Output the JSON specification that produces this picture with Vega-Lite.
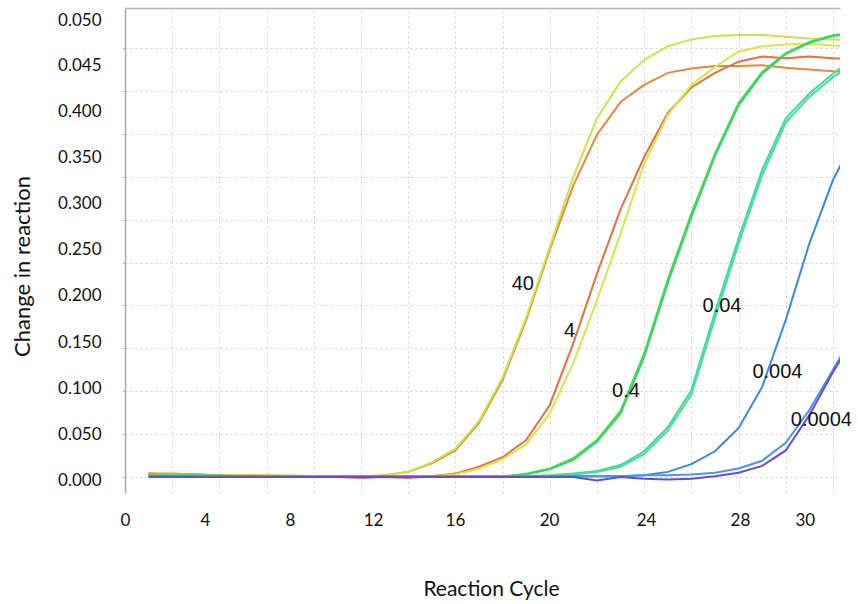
{
  "$schema": "https://vega.github.io/schema/vega-lite/v6.json",
  "width": 715,
  "height": 485,
  "autosize": {"type": "none"},
  "padding": {"left": 125, "top": 8, "right": 18, "bottom": 111},
  "background": "white",
  "config": {"view": {"stroke": null}, "font": "Lato"},
  "datasets": {
    "curves": [
      {"series":"40a","cycle":1,"value":0.004},{"series":"40a","cycle":2,"value":0.004},{"series":"40a","cycle":3,"value":0.003},{"series":"40a","cycle":4,"value":0.002},{"series":"40a","cycle":5,"value":0.002},{"series":"40a","cycle":6,"value":0.002},{"series":"40a","cycle":7,"value":0.001},{"series":"40a","cycle":8,"value":0.001},{"series":"40a","cycle":9,"value":0.001},{"series":"40a","cycle":10,"value":0.000},{"series":"40a","cycle":11,"value":0.002},{"series":"40a","cycle":12,"value":0.006},{"series":"40a","cycle":13,"value":0.016},{"series":"40a","cycle":14,"value":0.031},{"series":"40a","cycle":15,"value":0.063},{"series":"40a","cycle":16,"value":0.113},{"series":"40a","cycle":17,"value":0.183},{"series":"40a","cycle":18,"value":0.265},{"series":"40a","cycle":19,"value":0.340},{"series":"40a","cycle":20,"value":0.399},{"series":"40a","cycle":21,"value":0.437},{"series":"40a","cycle":22,"value":0.457},{"series":"40a","cycle":23,"value":0.471},{"series":"40a","cycle":24,"value":0.476},{"series":"40a","cycle":25,"value":0.479},{"series":"40a","cycle":26,"value":0.479},{"series":"40a","cycle":27,"value":0.480},{"series":"40a","cycle":28,"value":0.477},{"series":"40a","cycle":29,"value":0.475},{"series":"40a","cycle":30,"value":0.473},{"series":"40a","cycle":31,"value":0.472},
      {"series":"40b","cycle":1,"value":0.003},{"series":"40b","cycle":2,"value":0.003},{"series":"40b","cycle":3,"value":0.003},{"series":"40b","cycle":4,"value":0.002},{"series":"40b","cycle":5,"value":0.002},{"series":"40b","cycle":6,"value":0.002},{"series":"40b","cycle":7,"value":0.002},{"series":"40b","cycle":8,"value":0.001},{"series":"40b","cycle":9,"value":0.001},{"series":"40b","cycle":10,"value":0.001},{"series":"40b","cycle":11,"value":0.002},{"series":"40b","cycle":12,"value":0.006},{"series":"40b","cycle":13,"value":0.017},{"series":"40b","cycle":14,"value":0.033},{"series":"40b","cycle":15,"value":0.065},{"series":"40b","cycle":16,"value":0.116},{"series":"40b","cycle":17,"value":0.186},{"series":"40b","cycle":18,"value":0.268},{"series":"40b","cycle":19,"value":0.350},{"series":"40b","cycle":20,"value":0.418},{"series":"40b","cycle":21,"value":0.461},{"series":"40b","cycle":22,"value":0.486},{"series":"40b","cycle":23,"value":0.502},{"series":"40b","cycle":24,"value":0.510},{"series":"40b","cycle":25,"value":0.514},{"series":"40b","cycle":26,"value":0.515},{"series":"40b","cycle":27,"value":0.515},{"series":"40b","cycle":28,"value":0.513},{"series":"40b","cycle":29,"value":0.511},{"series":"40b","cycle":30,"value":0.510},{"series":"40b","cycle":31,"value":0.509},
      {"series":"4a","cycle":1,"value":0.004},{"series":"4a","cycle":2,"value":0.003},{"series":"4a","cycle":3,"value":0.003},{"series":"4a","cycle":4,"value":0.002},{"series":"4a","cycle":5,"value":0.002},{"series":"4a","cycle":6,"value":0.001},{"series":"4a","cycle":7,"value":0.001},{"series":"4a","cycle":8,"value":0.001},{"series":"4a","cycle":9,"value":0.000},{"series":"4a","cycle":10,"value":-0.001},{"series":"4a","cycle":11,"value":0.000},{"series":"4a","cycle":12,"value":-0.001},{"series":"4a","cycle":13,"value":0.001},{"series":"4a","cycle":14,"value":0.004},{"series":"4a","cycle":15,"value":0.012},{"series":"4a","cycle":16,"value":0.023},{"series":"4a","cycle":17,"value":0.043},{"series":"4a","cycle":18,"value":0.084},{"series":"4a","cycle":19,"value":0.156},{"series":"4a","cycle":20,"value":0.237},{"series":"4a","cycle":21,"value":0.312},{"series":"4a","cycle":22,"value":0.373},{"series":"4a","cycle":23,"value":0.424},{"series":"4a","cycle":24,"value":0.454},{"series":"4a","cycle":25,"value":0.471},{"series":"4a","cycle":26,"value":0.484},{"series":"4a","cycle":27,"value":0.490},{"series":"4a","cycle":28,"value":0.488},{"series":"4a","cycle":29,"value":0.490},{"series":"4a","cycle":30,"value":0.488},{"series":"4a","cycle":31,"value":0.487},
      {"series":"4b","cycle":1,"value":0.003},{"series":"4b","cycle":2,"value":0.003},{"series":"4b","cycle":3,"value":0.002},{"series":"4b","cycle":4,"value":0.002},{"series":"4b","cycle":5,"value":0.002},{"series":"4b","cycle":6,"value":0.001},{"series":"4b","cycle":7,"value":0.001},{"series":"4b","cycle":8,"value":0.001},{"series":"4b","cycle":9,"value":0.000},{"series":"4b","cycle":10,"value":0.000},{"series":"4b","cycle":11,"value":0.000},{"series":"4b","cycle":12,"value":0.000},{"series":"4b","cycle":13,"value":0.001},{"series":"4b","cycle":14,"value":0.003},{"series":"4b","cycle":15,"value":0.010},{"series":"4b","cycle":16,"value":0.021},{"series":"4b","cycle":17,"value":0.038},{"series":"4b","cycle":18,"value":0.074},{"series":"4b","cycle":19,"value":0.133},{"series":"4b","cycle":20,"value":0.206},{"series":"4b","cycle":21,"value":0.284},{"series":"4b","cycle":22,"value":0.365},{"series":"4b","cycle":23,"value":0.422},{"series":"4b","cycle":24,"value":0.457},{"series":"4b","cycle":25,"value":0.478},{"series":"4b","cycle":26,"value":0.496},{"series":"4b","cycle":27,"value":0.502},{"series":"4b","cycle":28,"value":0.504},{"series":"4b","cycle":29,"value":0.505},{"series":"4b","cycle":30,"value":0.503},{"series":"4b","cycle":31,"value":0.502},
      {"series":"0.4a","cycle":1,"value":0.002},{"series":"0.4a","cycle":2,"value":0.002},{"series":"0.4a","cycle":3,"value":0.002},{"series":"0.4a","cycle":4,"value":0.002},{"series":"0.4a","cycle":5,"value":0.001},{"series":"0.4a","cycle":6,"value":0.001},{"series":"0.4a","cycle":7,"value":0.001},{"series":"0.4a","cycle":8,"value":0.001},{"series":"0.4a","cycle":9,"value":0.001},{"series":"0.4a","cycle":10,"value":0.001},{"series":"0.4a","cycle":11,"value":0.001},{"series":"0.4a","cycle":12,"value":0.001},{"series":"0.4a","cycle":13,"value":0.000},{"series":"0.4a","cycle":14,"value":0.000},{"series":"0.4a","cycle":15,"value":0.000},{"series":"0.4a","cycle":16,"value":0.000},{"series":"0.4a","cycle":17,"value":0.004},{"series":"0.4a","cycle":18,"value":0.010},{"series":"0.4a","cycle":19,"value":0.022},{"series":"0.4a","cycle":20,"value":0.043},{"series":"0.4a","cycle":21,"value":0.077},{"series":"0.4a","cycle":22,"value":0.144},{"series":"0.4a","cycle":23,"value":0.230},{"series":"0.4a","cycle":24,"value":0.307},{"series":"0.4a","cycle":25,"value":0.377},{"series":"0.4a","cycle":26,"value":0.436},{"series":"0.4a","cycle":27,"value":0.472},{"series":"0.4a","cycle":28,"value":0.494},{"series":"0.4a","cycle":29,"value":0.507},{"series":"0.4a","cycle":30,"value":0.515},{"series":"0.4a","cycle":31,"value":0.518},
      {"series":"0.4b","cycle":1,"value":0.002},{"series":"0.4b","cycle":2,"value":0.002},{"series":"0.4b","cycle":3,"value":0.002},{"series":"0.4b","cycle":4,"value":0.001},{"series":"0.4b","cycle":5,"value":0.001},{"series":"0.4b","cycle":6,"value":0.001},{"series":"0.4b","cycle":7,"value":0.001},{"series":"0.4b","cycle":8,"value":0.001},{"series":"0.4b","cycle":9,"value":0.001},{"series":"0.4b","cycle":10,"value":0.001},{"series":"0.4b","cycle":11,"value":0.000},{"series":"0.4b","cycle":12,"value":0.000},{"series":"0.4b","cycle":13,"value":0.000},{"series":"0.4b","cycle":14,"value":0.000},{"series":"0.4b","cycle":15,"value":0.000},{"series":"0.4b","cycle":16,"value":0.001},{"series":"0.4b","cycle":17,"value":0.003},{"series":"0.4b","cycle":18,"value":0.009},{"series":"0.4b","cycle":19,"value":0.020},{"series":"0.4b","cycle":20,"value":0.041},{"series":"0.4b","cycle":21,"value":0.074},{"series":"0.4b","cycle":22,"value":0.140},{"series":"0.4b","cycle":23,"value":0.226},{"series":"0.4b","cycle":24,"value":0.303},{"series":"0.4b","cycle":25,"value":0.374},{"series":"0.4b","cycle":26,"value":0.433},{"series":"0.4b","cycle":27,"value":0.470},{"series":"0.4b","cycle":28,"value":0.493},{"series":"0.4b","cycle":29,"value":0.506},{"series":"0.4b","cycle":30,"value":0.514},{"series":"0.4b","cycle":31,"value":0.517},
      {"series":"0.04a","cycle":1,"value":0.001},{"series":"0.04a","cycle":2,"value":0.001},{"series":"0.04a","cycle":3,"value":0.001},{"series":"0.04a","cycle":4,"value":0.001},{"series":"0.04a","cycle":5,"value":0.001},{"series":"0.04a","cycle":6,"value":0.001},{"series":"0.04a","cycle":7,"value":0.001},{"series":"0.04a","cycle":8,"value":0.001},{"series":"0.04a","cycle":9,"value":0.001},{"series":"0.04a","cycle":10,"value":0.001},{"series":"0.04a","cycle":11,"value":0.001},{"series":"0.04a","cycle":12,"value":0.001},{"series":"0.04a","cycle":13,"value":0.001},{"series":"0.04a","cycle":14,"value":0.001},{"series":"0.04a","cycle":15,"value":0.001},{"series":"0.04a","cycle":16,"value":0.001},{"series":"0.04a","cycle":17,"value":0.001},{"series":"0.04a","cycle":18,"value":0.002},{"series":"0.04a","cycle":19,"value":0.004},{"series":"0.04a","cycle":20,"value":0.007},{"series":"0.04a","cycle":21,"value":0.014},{"series":"0.04a","cycle":22,"value":0.030},{"series":"0.04a","cycle":23,"value":0.058},{"series":"0.04a","cycle":24,"value":0.101},{"series":"0.04a","cycle":25,"value":0.192},{"series":"0.04a","cycle":26,"value":0.278},{"series":"0.04a","cycle":27,"value":0.358},{"series":"0.04a","cycle":28,"value":0.418},{"series":"0.04a","cycle":29,"value":0.447},{"series":"0.04a","cycle":30,"value":0.470},{"series":"0.04a","cycle":31,"value":0.490},
      {"series":"0.04b","cycle":1,"value":0.001},{"series":"0.04b","cycle":2,"value":0.001},{"series":"0.04b","cycle":3,"value":0.001},{"series":"0.04b","cycle":4,"value":0.001},{"series":"0.04b","cycle":5,"value":0.001},{"series":"0.04b","cycle":6,"value":0.001},{"series":"0.04b","cycle":7,"value":0.001},{"series":"0.04b","cycle":8,"value":0.001},{"series":"0.04b","cycle":9,"value":0.001},{"series":"0.04b","cycle":10,"value":0.001},{"series":"0.04b","cycle":11,"value":0.001},{"series":"0.04b","cycle":12,"value":0.001},{"series":"0.04b","cycle":13,"value":0.001},{"series":"0.04b","cycle":14,"value":0.001},{"series":"0.04b","cycle":15,"value":0.001},{"series":"0.04b","cycle":16,"value":0.001},{"series":"0.04b","cycle":17,"value":0.001},{"series":"0.04b","cycle":18,"value":0.001},{"series":"0.04b","cycle":19,"value":0.003},{"series":"0.04b","cycle":20,"value":0.006},{"series":"0.04b","cycle":21,"value":0.012},{"series":"0.04b","cycle":22,"value":0.027},{"series":"0.04b","cycle":23,"value":0.054},{"series":"0.04b","cycle":24,"value":0.096},{"series":"0.04b","cycle":25,"value":0.185},{"series":"0.04b","cycle":26,"value":0.272},{"series":"0.04b","cycle":27,"value":0.352},{"series":"0.04b","cycle":28,"value":0.413},{"series":"0.04b","cycle":29,"value":0.443},{"series":"0.04b","cycle":30,"value":0.466},{"series":"0.04b","cycle":31,"value":0.484},
      {"series":"0.004","cycle":1,"value":0.001},{"series":"0.004","cycle":2,"value":0.001},{"series":"0.004","cycle":3,"value":0.001},{"series":"0.004","cycle":4,"value":0.001},{"series":"0.004","cycle":5,"value":0.001},{"series":"0.004","cycle":6,"value":0.000},{"series":"0.004","cycle":7,"value":0.000},{"series":"0.004","cycle":8,"value":0.000},{"series":"0.004","cycle":9,"value":0.000},{"series":"0.004","cycle":10,"value":0.000},{"series":"0.004","cycle":11,"value":0.000},{"series":"0.004","cycle":12,"value":0.000},{"series":"0.004","cycle":13,"value":0.000},{"series":"0.004","cycle":14,"value":0.000},{"series":"0.004","cycle":15,"value":0.000},{"series":"0.004","cycle":16,"value":0.000},{"series":"0.004","cycle":17,"value":0.000},{"series":"0.004","cycle":18,"value":0.001},{"series":"0.004","cycle":19,"value":0.001},{"series":"0.004","cycle":20,"value":0.001},{"series":"0.004","cycle":21,"value":0.001},{"series":"0.004","cycle":22,"value":0.002},{"series":"0.004","cycle":23,"value":0.006},{"series":"0.004","cycle":24,"value":0.015},{"series":"0.004","cycle":25,"value":0.030},{"series":"0.004","cycle":26,"value":0.057},{"series":"0.004","cycle":27,"value":0.105},{"series":"0.004","cycle":28,"value":0.183},{"series":"0.004","cycle":29,"value":0.272},{"series":"0.004","cycle":30,"value":0.346},{"series":"0.004","cycle":31,"value":0.400},
      {"series":"0.0004a","cycle":1,"value":0.001},{"series":"0.0004a","cycle":2,"value":0.001},{"series":"0.0004a","cycle":3,"value":0.001},{"series":"0.0004a","cycle":4,"value":0.001},{"series":"0.0004a","cycle":5,"value":0.001},{"series":"0.0004a","cycle":6,"value":0.001},{"series":"0.0004a","cycle":7,"value":0.001},{"series":"0.0004a","cycle":8,"value":0.001},{"series":"0.0004a","cycle":9,"value":0.001},{"series":"0.0004a","cycle":10,"value":0.001},{"series":"0.0004a","cycle":11,"value":0.001},{"series":"0.0004a","cycle":12,"value":0.001},{"series":"0.0004a","cycle":13,"value":0.001},{"series":"0.0004a","cycle":14,"value":0.001},{"series":"0.0004a","cycle":15,"value":0.001},{"series":"0.0004a","cycle":16,"value":0.001},{"series":"0.0004a","cycle":17,"value":0.001},{"series":"0.0004a","cycle":18,"value":0.001},{"series":"0.0004a","cycle":19,"value":0.001},{"series":"0.0004a","cycle":20,"value":0.001},{"series":"0.0004a","cycle":21,"value":0.001},{"series":"0.0004a","cycle":22,"value":0.002},{"series":"0.0004a","cycle":23,"value":0.002},{"series":"0.0004a","cycle":24,"value":0.003},{"series":"0.0004a","cycle":25,"value":0.005},{"series":"0.0004a","cycle":26,"value":0.010},{"series":"0.0004a","cycle":27,"value":0.019},{"series":"0.0004a","cycle":28,"value":0.040},{"series":"0.0004a","cycle":29,"value":0.078},{"series":"0.0004a","cycle":30,"value":0.125},{"series":"0.0004a","cycle":31,"value":0.172},
      {"series":"0.0004b","cycle":1,"value":0.000},{"series":"0.0004b","cycle":2,"value":0.000},{"series":"0.0004b","cycle":3,"value":0.000},{"series":"0.0004b","cycle":4,"value":0.000},{"series":"0.0004b","cycle":5,"value":0.000},{"series":"0.0004b","cycle":6,"value":0.000},{"series":"0.0004b","cycle":7,"value":0.000},{"series":"0.0004b","cycle":8,"value":0.000},{"series":"0.0004b","cycle":9,"value":0.000},{"series":"0.0004b","cycle":10,"value":0.000},{"series":"0.0004b","cycle":11,"value":0.000},{"series":"0.0004b","cycle":12,"value":0.000},{"series":"0.0004b","cycle":13,"value":0.000},{"series":"0.0004b","cycle":14,"value":0.000},{"series":"0.0004b","cycle":15,"value":0.000},{"series":"0.0004b","cycle":16,"value":0.000},{"series":"0.0004b","cycle":17,"value":0.000},{"series":"0.0004b","cycle":18,"value":0.000},{"series":"0.0004b","cycle":19,"value":0.000},{"series":"0.0004b","cycle":20,"value":-0.004},{"series":"0.0004b","cycle":21,"value":0.000},{"series":"0.0004b","cycle":22,"value":-0.002},{"series":"0.0004b","cycle":23,"value":-0.003},{"series":"0.0004b","cycle":24,"value":-0.002},{"series":"0.0004b","cycle":25,"value":0.001},{"series":"0.0004b","cycle":26,"value":0.005},{"series":"0.0004b","cycle":27,"value":0.013},{"series":"0.0004b","cycle":28,"value":0.031},{"series":"0.0004b","cycle":29,"value":0.072},{"series":"0.0004b","cycle":30,"value":0.122},{"series":"0.0004b","cycle":31,"value":0.168}
    ],
    "annotations": [
      {"label":"40","cycle":16.86,"value":0.225},
      {"label":"4","cycle":18.84,"value":0.170},
      {"label":"0.4","cycle":21.23,"value":0.100},
      {"label":"0.04","cycle":25.3,"value":0.199},
      {"label":"0.004","cycle":27.65,"value":0.122},
      {"label":"0.0004","cycle":29.51,"value":0.067}
    ]
  },
  "layer": [
    {
      "data": {"name": "curves"},
      "mark": {"type": "line", "strokeWidth": 2, "clip": true},
      "encoding": {
        "x": {
          "field": "cycle", "type": "quantitative",
          "scale": {"domain": [0, 30.3], "nice": false, "zero": false},
          "axis": {"orient": "top", "values": [0,2,4,6,8,10,12,14,16,18,20,22,24,26,28,30], "grid": true, "gridColor": "#d2d2d2", "gridDash": [2,3], "gridWidth": 1, "labels": false, "ticks": false, "domain": true, "domainColor": "#b4b4b4", "domainWidth": 1.5, "title": null}
        },
        "y": {
          "field": "value", "type": "quantitative",
          "scale": {"domain": [-0.0186, 0.5466], "nice": false, "zero": false},
          "axis": {"orient": "left", "values": [0,0.05,0.1,0.15,0.2,0.25,0.3,0.35,0.4,0.45,0.5], "grid": true, "gridColor": "#d2d2d2", "gridDash": [2,3], "gridWidth": 1, "labels": false, "ticks": true, "tickSize": 3, "tickColor": "#bdbdbd", "domain": true, "domainColor": "#a8a8a8", "domainWidth": 1.5, "title": null}
        },
        "color": {
          "field": "series", "type": "nominal", "legend": null,
          "scale": {
            "domain": ["0.0004b","0.0004a","0.004","0.04b","0.04a","0.4b","0.4a","4b","4a","40b","40a"],
            "range": ["#6a4ad8","#4a96e8","#3a86e4","#4cd8b0","#3ee08a","#3ad46a","#4cdc50","#d8e646","#e8703e","#d0e24a","#e8883a"]
          }
        }
      }
    },
    {
      "data": {"name": "annotations"},
      "mark": {"type": "text", "font": "Liberation Sans", "fontSize": 20, "color": "#111111", "align": "center", "baseline": "middle"},
      "encoding": {
        "x": {
          "field": "cycle", "type": "quantitative",
          "scale": {"domain": [0, 30.3], "nice": false, "zero": false},
          "axis": {"orient": "bottom", "values": [0, 3.39, 6.99, 10.51, 13.98, 17.97, 22.08, 26.06, 28.81], "labelExpr": "datum.value < 1 ? '0' : datum.value < 5 ? '4' : datum.value < 8 ? '8' : datum.value < 12 ? '12' : datum.value < 16 ? '16' : datum.value < 20 ? '20' : datum.value < 24 ? '24' : datum.value < 27 ? '28' : '30'", "grid": false, "ticks": false, "domain": false, "labelFont": "Lato", "labelFontSize": 17, "labelColor": "#111111", "labelPadding": 19, "labelFlush": false, "labelOverlap": false, "title": "Reaction Cycle", "titleFont": "Lato", "titleFontSize": 21, "titleFontWeight": "normal", "titleColor": "#111111", "titleBaseline": "alphabetic", "titleAlign": "center", "titleX": 366, "titleY": 102}
        },
        "y": {
          "field": "value", "type": "quantitative",
          "scale": {"domain": [-0.0186, 0.5466], "nice": false, "zero": false},
          "axis": {"orient": "left", "values": [-0.0035, 0.0498, 0.1034, 0.157, 0.211, 0.2646, 0.3182, 0.3726, 0.4258, 0.4793, 0.5317], "labelExpr": "datum.value < 0 ? '0.000' : datum.value < 0.08 ? '0.050' : datum.value < 0.13 ? '0.100' : datum.value < 0.18 ? '0.150' : datum.value < 0.24 ? '0.200' : datum.value < 0.29 ? '0.250' : datum.value < 0.34 ? '0.300' : datum.value < 0.4 ? '0.350' : datum.value < 0.45 ? '0.400' : datum.value < 0.5 ? '0.045' : '0.050'", "grid": false, "ticks": false, "domain": false, "labelFont": "Lato", "labelFontSize": 17, "labelColor": "#111111", "labelPadding": 24, "labelOverlap": false, "labelFlush": false, "title": "Change in reaction", "titleFont": "Lato", "titleFontSize": 22, "titleFontWeight": "normal", "titleColor": "#111111", "titleBaseline": "alphabetic", "titleAlign": "center", "titleAngle": -90, "titleX": -96, "titleY": 258}
        },
        "text": {"field": "label", "type": "nominal"}
      }
    }
  ],
  "resolve": {"axis": {"x": "independent", "y": "independent"}}
}
